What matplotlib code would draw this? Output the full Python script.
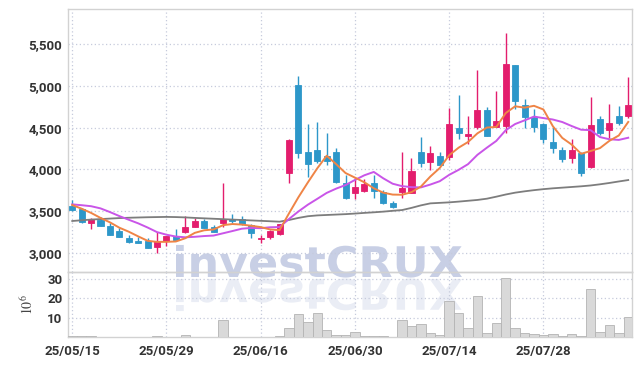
import matplotlib
matplotlib.use("Agg")
import matplotlib.pyplot as plt
import numpy as np
from matplotlib.textpath import TextPath
from matplotlib.patches import PathPatch
from matplotlib.font_manager import FontProperties
from matplotlib.transforms import Affine2D, IdentityTransform

# trading days shown (yy/mm/dd)
dates = ["25/05/15", "25/05/16", "25/05/19", "25/05/20", "25/05/21", "25/05/22",
         "25/05/23", "25/05/26", "25/05/27", "25/05/28", "25/05/29", "25/05/30",
         "25/06/02", "25/06/04", "25/06/05", "25/06/09", "25/06/10", "25/06/11",
         "25/06/12", "25/06/13", "25/06/16", "25/06/17", "25/06/18", "25/06/19",
         "25/06/20", "25/06/23", "25/06/24", "25/06/25", "25/06/26", "25/06/27",
         "25/06/30", "25/07/01", "25/07/02", "25/07/03", "25/07/04", "25/07/07",
         "25/07/08", "25/07/09", "25/07/10", "25/07/11", "25/07/14", "25/07/15",
         "25/07/16", "25/07/17", "25/07/18", "25/07/21", "25/07/22", "25/07/23",
         "25/07/24", "25/07/25", "25/07/28", "25/07/29", "25/07/30", "25/07/31",
         "25/08/01", "25/08/04", "25/08/05", "25/08/06", "25/08/07", "25/08/08"]

opens = [3562, 3523, 3362, 3395, 3323, 3263, 3176, 3147, 3143, 3075,
         3147, 3203, 3248, 3315, 3383, 3307, 3355, 3403, 3403, 3335,
         3170, 3188, 3227, 3960, 5009, 4208, 4232, 4160, 4208, 3834,
         3714, 3745, 3834, 3730, 3594, 3733, 3721, 4208, 4092, 4160,
         4145, 4499, 4403, 4503, 4710, 4511, 4519, 5248, 4770, 4623,
         4543, 4331, 4232, 4132, 4200, 4025, 4599, 4471, 4639, 4642]
highs = [3634, 3540, 3420, 3434, 3359, 3299, 3215, 3195, 3179, 3255,
         3203, 3283, 3446, 3415, 3403, 3335, 3834, 3463, 3443, 3345,
         3215, 3270, 3350, 4360, 5117, 4539, 4571, 4431, 4252, 3929,
         3905, 3881, 3933, 3754, 3626, 4204, 4140, 4384, 4283, 4204,
         4731, 4886, 4642, 5189, 4743, 4938, 5628, 5255, 4842, 4719,
         4560, 4511, 4271, 4360, 4210, 4870, 4642, 4778, 4762, 5101]
lows = [3500, 3360, 3283, 3320, 3210, 3190, 3120, 3115, 3055, 2996,
        3087, 3150, 3240, 3310, 3295, 3250, 3315, 3355, 3340, 3176,
        3123, 3163, 3220, 3834, 4132, 3913, 4073, 4052, 3840, 3646,
        3646, 3730, 3654, 3590, 3540, 3654, 3715, 4025, 3993, 4050,
        4112, 4363, 4304, 4479, 4400, 4505, 4431, 4719, 4491, 4451,
        4319, 4200, 4085, 4073, 3921, 4020, 4411, 4371, 4531, 4611]
closes = [3514, 3374, 3403, 3327, 3215, 3195, 3135, 3123, 3063, 3147,
          3203, 3155, 3315, 3383, 3303, 3255, 3407, 3387, 3347, 3235,
          3176, 3263, 3347, 4351, 4200, 4061, 4104, 4104, 3853, 3661,
          3786, 3825, 3745, 3594, 3546, 3774, 3981, 4080, 4192, 4056,
          4543, 4431, 4419, 4710, 4403, 4579, 5260, 4822, 4631, 4511,
          4360, 4259, 4124, 4232, 3960, 4527, 4431, 4559, 4551, 4770]

ma5 = [3574, 3530, 3480, 3420, 3367, 3303, 3255, 3199, 3146, 3133,
       3134, 3138, 3177, 3241, 3272, 3282, 3333, 3347, 3340, 3326,
       3310, 3282, 3274, 3474, 3667, 3844, 4013, 4164, 4064, 3957,
       3902, 3846, 3774, 3722, 3699, 3697, 3728, 3795, 3915, 4017,
       4170, 4260, 4328, 4432, 4501, 4508, 4674, 4755, 4739, 4761,
       4717, 4517, 4377, 4297, 4187, 4220, 4255, 4342, 4406, 4568]
ma10 = [3582, 3572, 3560, 3534, 3490, 3442, 3398, 3355, 3305, 3250,
        3219, 3197, 3188, 3194, 3203, 3209, 3236, 3263, 3291, 3300,
        3297, 3308, 3311, 3407, 3497, 3578, 3648, 3719, 3770, 3813,
        3874, 3930, 3970, 3894, 3829, 3800, 3788, 3785, 3819, 3859,
        3935, 3995, 4063, 4175, 4260, 4341, 4469, 4543, 4587, 4632,
        4614, 4597, 4567, 4519, 4475, 4470, 4387, 4361, 4353, 4379]
ma60 = [3383, 3392, 3400, 3406, 3412, 3418, 3422, 3425, 3428, 3430,
        3432, 3430, 3426, 3420, 3415, 3410, 3405, 3400, 3395, 3390,
        3385, 3380, 3375, 3395, 3420, 3440, 3450, 3455, 3460, 3465,
        3472, 3480, 3487, 3495, 3505, 3514, 3540, 3570, 3594, 3600,
        3606, 3615, 3625, 3635, 3650, 3674, 3700, 3722, 3738, 3752,
        3764, 3774, 3782, 3790, 3798, 3808, 3822, 3838, 3856, 3873]

# volume in millions
volume = [0.35, 0.35, 0.35, 0.05, 0.05, 0.05, 0.05, 0.05, 0.05, 0.35,
          0.05, 0.05, 0.9, 0.05, 0.05, 0.05, 9.0, 0.25, 0.25, 0.25,
          0.05, 0.05, 0.35, 4.4, 11.8, 7.6, 12.3, 3.5, 0.9, 0.9,
          2.4, 0.6, 0.4, 0.4, 0.05, 8.6, 5.5, 6.6, 1.9, 0.9,
          18.5, 12.3, 4.5, 21.2, 1.9, 7.1, 30.4, 4.8, 2.1, 1.6,
          0.9, 1.4, 0.3, 1.4, 0.3, 25.0, 2.4, 6.0, 2.1, 10.5]

UP = "#e31d6d"
DOWN = "#2d97c9"
GRID = "#c6cbdc"

plt.rcParams["font.family"] = ["Roboto", "DejaVu Sans"]
plt.rcParams["mathtext.fontset"] = "stix"

fig = plt.figure(figsize=(6.42, 3.66), dpi=100)
fig.patch.set_facecolor("white")
W, H = 642, 366
left, right = 68 / W, 632 / W
ax = fig.add_axes([left, (H - 272) / H, right - left, (272 - 9) / H])
axv = fig.add_axes([left, (H - 337) / H, right - left, (337 - 272) / H], sharex=ax)

x = np.arange(len(dates))
o = np.array(opens)
c = np.array(closes)
up = c >= o
cols = np.where(up, UP, DOWN)

ax.vlines(x, lows, highs, colors=cols, linewidth=1.0, zorder=3)
body_lo = np.minimum(o, c)
body_h = np.maximum(np.abs(c - o), 12)
ax.bar(x, body_h, bottom=body_lo, width=0.64, color=cols, edgecolor=cols,
       linewidth=0.6, zorder=4)

ax.plot(x, ma60, color="#7d7d7d", lw=1.3, zorder=5)
ax.plot(x, ma10, color="#c955e8", lw=1.4, zorder=5)
ax.plot(x, ma5, color="#ef8446", lw=1.4, zorder=6)

axv.bar(x, volume, width=1.0, color="#d9d9d9", edgecolor="#b4b4b4",
        linewidth=0.6, zorder=3)

for a in (ax, axv):
    a.set_facecolor("none")
    a.grid(True, color=GRID, linestyle=(0, (1, 2)), linewidth=0.9)
    a.set_axisbelow(True)
    a.tick_params(length=0, labelsize=9.5, colors="#333333")
    for s in a.spines.values():
        s.set_color("#d2d2d2")
        s.set_linewidth(1.0)

ax.set_xlim(-0.45, 59.4)
ax.set_ylim(2773, 5919)
price_ticks = [3000, 3500, 4000, 4500, 5000, 5500]
ax.set_yticks(price_ticks)
ax.set_yticklabels([f"{v:,}" for v in price_ticks], fontweight="bold")
ax.tick_params(axis="x", labelbottom=False)
ax.tick_params(axis="y", pad=4)

tick_idx = list(range(0, len(dates), 10))
axv.set_xticks(tick_idx)
axv.set_xticklabels([dates[i] for i in tick_idx], fontweight="bold")
axv.set_ylim(0, 33.6)
axv.set_yticks([10, 20, 30])
axv.set_yticklabels(["10", "20", "30"], fontweight="bold")
axv.tick_params(axis="x", pad=6)
axv.tick_params(axis="y", pad=4)
axv.set_ylabel(r"$10^6$", fontsize=10, color="#444444", labelpad=8)

# watermark with reflection
prop = FontProperties(family="DejaVu Sans", weight="bold")
tp = TextPath((0, 0), "investCRUX", size=100, prop=prop)
ext = tp.get_extents()
sc = 286 / ext.width
base_y = H - 277
t_main = Affine2D().translate(-ext.x0, 0).scale(sc, sc * 0.95).translate(176, base_y)
t_refl = Affine2D().translate(-ext.x0, 0).scale(sc, -sc * 0.95).translate(176, base_y - 2)
fig.patches.append(PathPatch(t_main.transform_path(tp), transform=IdentityTransform(),
                             facecolor="#c8cfe5", edgecolor="none", zorder=-1,
                             figure=fig))
fig.patches.append(PathPatch(t_refl.transform_path(tp), transform=IdentityTransform(),
                             facecolor="#eaedf5", edgecolor="none", zorder=-1,
                             figure=fig))

fig.savefig("out.png", dpi=100, facecolor="white")
